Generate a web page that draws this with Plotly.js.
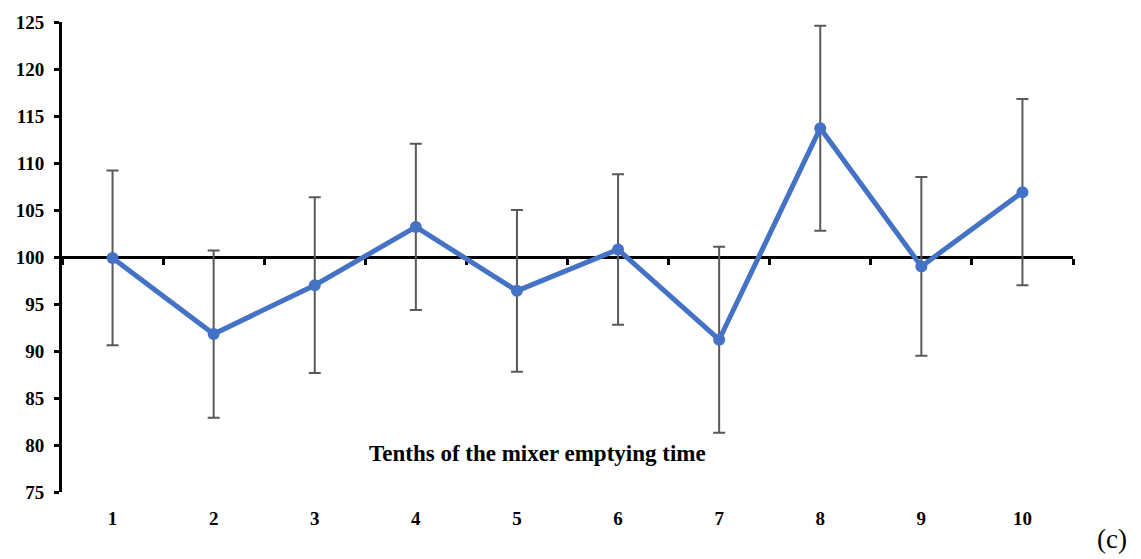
<!DOCTYPE html>
<html>
<head>
<meta charset="utf-8">
<script src="https://cdn.plot.ly/plotly-3.0.1.min.js"></script>
<style>
  html, body { margin: 0; padding: 0; background: #fff; }
  #chart { width: 1141px; height: 559px; }
</style>
</head>
<body>
<div id="chart"></div>
<script>
// Tenths of the mixer emptying time (1..10)
const tenths = [1, 2, 3, 4, 5, 6, 7, 8, 9, 10];
// Mean value per tenth
const meanValues = [99.9, 91.8, 97.0, 103.2, 96.4, 100.8, 91.2, 113.7, 99.0, 106.9];
// Error bar half-widths
const errValues = [9.3, 8.9, 9.35, 8.85, 8.6, 8.0, 9.9, 10.9, 9.5, 9.9];
// Category boundaries carrying the tick marks on the 100 line
const boundaries = [0.5, 1.5, 2.5, 3.5, 4.5, 5.5, 6.5, 7.5, 8.5, 9.5, 10.5];
const yTicks = [75, 80, 85, 90, 95, 100, 105, 110, 115, 120, 125];

const serif = "'Times New Roman', 'Liberation Serif', 'DejaVu Serif', serif";
const boldFont = { family: serif, size: 19, color: '#000', weight: 'bold' };

const series = {
  x: tenths,
  y: meanValues,
  type: 'scatter',
  mode: 'lines+markers',
  line: { color: '#4472C4', width: 5 },
  marker: { color: '#4472C4', size: 12 },
  error_y: {
    type: 'data',
    array: errValues,
    visible: true,
    color: '#595959',
    thickness: 2,
    width: 6
  },
  hoverinfo: 'x+y',
  showlegend: false
};

// Carrier for the bottom category labels (nothing visible is drawn)
const labelCarrier = {
  x: tenths,
  y: meanValues,
  xaxis: 'x2',
  yaxis: 'y',
  type: 'scatter',
  mode: 'markers',
  marker: { opacity: 0, size: 1 },
  hoverinfo: 'skip',
  showlegend: false
};

const layout = {
  width: 1141,
  height: 559,
  margin: { l: 62, r: 68, t: 22, b: 67 },
  paper_bgcolor: '#fff',
  plot_bgcolor: '#fff',
  showlegend: false,
  xaxis: {
    range: [0.5, 10.5],
    anchor: 'free',
    position: 0.5,
    showline: true,
    linecolor: '#000',
    linewidth: 3,
    showgrid: false,
    zeroline: false,
    tickmode: 'array',
    tickvals: boundaries,
    ticks: 'outside',
    ticklen: 6,
    tickwidth: 3,
    tickcolor: '#000',
    showticklabels: false,
    layer: 'below traces',
    fixedrange: true
  },
  xaxis2: {
    range: [0.5, 10.5],
    overlaying: 'x',
    anchor: 'y',
    side: 'bottom',
    showline: false,
    showgrid: false,
    zeroline: false,
    tickmode: 'array',
    tickvals: tenths,
    ticktext: tenths.map(String),
    ticks: '',
    ticklabelstandoff: 13,
    tickfont: boldFont,
    fixedrange: true
  },
  yaxis: {
    range: [75, 125],
    showline: true,
    linecolor: '#000',
    linewidth: 3,
    showgrid: false,
    zeroline: false,
    tickmode: 'array',
    tickvals: yTicks,
    ticks: 'outside',
    ticklen: 5,
    tickwidth: 3,
    tickcolor: '#000',
    ticklabelstandoff: 6,
    tickfont: boldFont,
    fixedrange: true
  },
  annotations: [
    {
      text: 'Tenths of the mixer emptying time',
      xref: 'paper', yref: 'paper',
      x: 0.47, y: 0.082,
      xanchor: 'center', yanchor: 'middle',
      showarrow: false,
      font: { family: serif, size: 23, color: '#000', weight: 'bold' }
    },
    {
      text: '(c)',
      xref: 'paper', yref: 'paper',
      x: 1.039, y: -0.1,
      xanchor: 'center', yanchor: 'middle',
      showarrow: false,
      font: { family: serif, size: 27, color: '#000' }
    }
  ]
};

Plotly.newPlot('chart', [series, labelCarrier], layout, { displayModeBar: false, staticPlot: true });
</script>
</body>
</html>
